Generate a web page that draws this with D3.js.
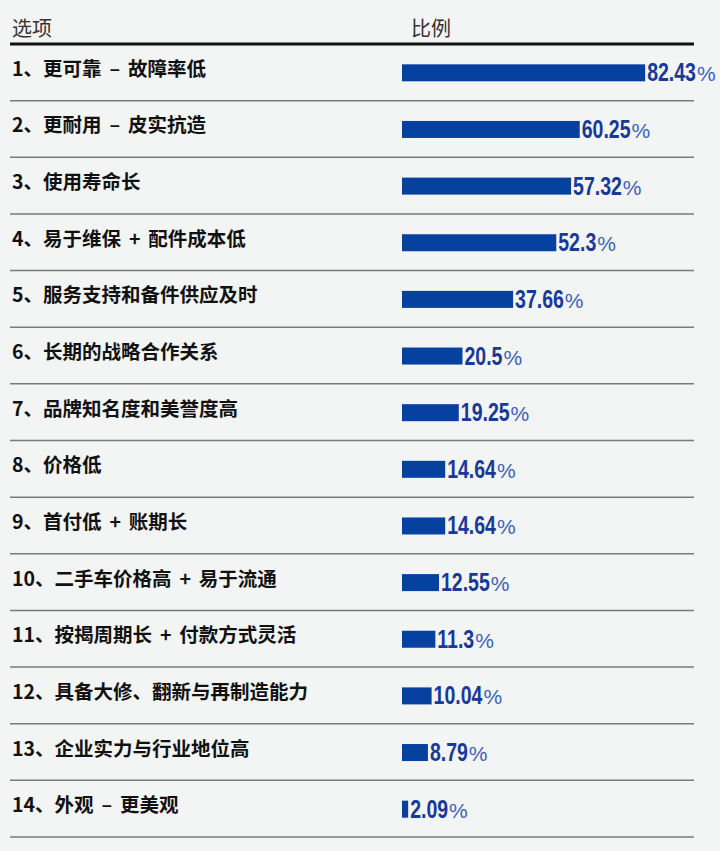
<!DOCTYPE html>
<html><head><meta charset="utf-8">
<script src="https://cdn.jsdelivr.net/npm/d3@7/dist/d3.min.js"></script>
<style>
html,body{margin:0;padding:0;background:#f3f4f4;}
svg{display:block;}
</style></head>
<body>
<script>
const categories = [
  "1、更可靠 – 故障率低",
  "2、更耐用 – 皮实抗造",
  "3、使用寿命长",
  "4、易于维保 + 配件成本低",
  "5、服务支持和备件供应及时",
  "6、长期的战略合作关系",
  "7、品牌知名度和美誉度高",
  "8、价格低",
  "9、首付低 + 账期长",
  "10、二手车价格高 + 易于流通",
  "11、按揭周期长 + 付款方式灵活",
  "12、具备大修、翻新与再制造能力",
  "13、企业实力与行业地位高",
  "14、外观 – 更美观"
];
const values = [82.43, 60.25, 57.32, 52.3, 37.66, 20.5, 19.25, 14.64, 14.64, 12.55, 11.3, 10.04, 8.79, 2.09];
const headers = ["选项", "比例"];

const W = 720, H = 851;
const svg = d3.select("body").append("svg").attr("width", W).attr("height", H);
svg.append("rect").attr("width", W).attr("height", H).attr("fill", "#f3f4f4");

const cjk = "'Noto Sans CJK SC','Noto Sans',sans-serif";
const y = d3.scaleBand().domain(categories).range([44, 837]);
const x = d3.scaleLinear().domain([0, 100]).range([402, 697]);

// headers
svg.append("text").attr("x", 12).attr("y", 36).text(headers[0])
  .attr("font-family", cjk).attr("font-size", 20).attr("fill", "#333");
svg.append("text").attr("x", 411).attr("y", 36).text(headers[1])
  .attr("font-family", cjk).attr("font-size", 20).attr("fill", "#333");

// header line
svg.append("line").attr("x1", 10).attr("x2", 694).attr("y1", 44).attr("y2", 44)
  .attr("stroke", "#111").attr("stroke-width", 3);

// separators
svg.selectAll("line.sep").data(categories).enter().append("line")
  .attr("class", "sep")
  .attr("x1", 10).attr("x2", 694)
  .attr("y1", d => y(d) + y.bandwidth()).attr("y2", d => y(d) + y.bandwidth())
  .attr("stroke", "#7a7a7a").attr("stroke-width", 1.5);

// labels
svg.selectAll("text.lab").data(categories).enter().append("text")
  .attr("class", "lab")
  .attr("x", 12)
  .attr("y", d => y(d) + y.bandwidth() / 2 - 5)
  .attr("dominant-baseline", "central")
  .attr("font-family", cjk).attr("font-weight", "bold").attr("font-size", 19.5)
  .attr("word-spacing", 3.5)
  .attr("fill", "#111")
  .text(d => d);

// bars
const barH = 17;
svg.selectAll("rect.bar").data(values).enter().append("rect")
  .attr("class", "bar")
  .attr("x", x(0))
  .attr("y", (d, i) => y(categories[i]) + y.bandwidth() / 2 - barH / 2 + 0.5)
  .attr("width", d => x(d) - x(0))
  .attr("height", barH)
  .attr("fill", "#0641a0");

// value labels: condensed bold number + regular percent sign
const squeeze = 0.78;
values.forEach((v, i) => {
  const by = y(categories[i]) + y.bandwidth() / 2 + 9;
  const x0 = x(v) + 2;
  const g = svg.append("g").attr("transform", `translate(${x0},${by}) scale(${squeeze},1)`);
  const t = g.append("text").attr("class", "val")
    .attr("x", 0).attr("y", 0)
    .attr("font-family", "'Liberation Sans',Arial,sans-serif")
    .attr("font-weight", "bold").attr("font-size", 25)
    .attr("fill", "#17399a")
    .text(v);
  const w = t.node().getComputedTextLength() * squeeze;
  svg.append("text").attr("class", "pct")
    .attr("x", x0 + w + 1).attr("y", by)
    .attr("font-family", "'Liberation Sans',Arial,sans-serif")
    .attr("font-size", 21).attr("fill", "#3a62bf")
    .text("%");
});
</script>
</body></html>
